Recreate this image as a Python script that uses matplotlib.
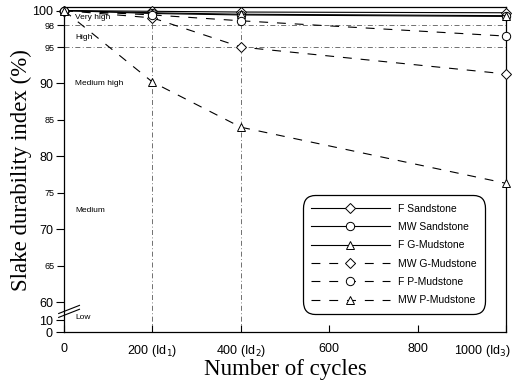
import numpy as np
import matplotlib
matplotlib.use('Agg')
import matplotlib.pyplot as plt
from matplotlib.transforms import ScaledTranslation

# cycles and slake durability index (%) per sample
cycles = [0, 200, 400, 1000]
f_sandstone = [100, 99.9, 99.8, 99.7]
mw_sandstone = [100, 99.6, 99.4, 99.2]
f_g_mudstone = [100, 99.7, 99.5, 99.3]
mw_g_mudstone = [100, 99.0, 95.0, 91.3]
f_p_mudstone = [100, 99.4, 98.6, 96.5]
mw_p_mudstone = [100, 90.2, 84.0, 76.3]

series = [
    ('F Sandstone', f_sandstone, 'D', '-'),
    ('MW Sandstone', mw_sandstone, 'o', '-'),
    ('F G-Mudstone', f_g_mudstone, '^', '-'),
    ('MW G-Mudstone', mw_g_mudstone, 'D', (0, (8, 8))),
    ('F P-Mudstone', f_p_mudstone, 'o', (0, (8, 8))),
    ('MW P-Mudstone', mw_p_mudstone, '^', (0, (8, 8))),
]

xticks = [0, 200, 400, 600, 800, 1000]
xticklabels = ['0', '200 (Id$_1$)', '400 (Id$_2$)', '600', '800', '1000 (Id$_3$)']

# the axis is broken below 60: 10 and 0 are squeezed under it
y_major = [100, 90, 80, 70, 60]
y_minor = [98, 95, 85, 75, 65]
y_low = {'10': 57.5, '0': 55.9}

classes = [('Very high', 99.0), ('High', 96.3), ('Medium high', 90.0),
           ('Medium', 72.6), ('Low', 57.9)]

sans = 'Liberation Sans'
serif = 'Liberation Serif'

fig = plt.figure(figsize=(5.14, 3.84), dpi=100)
ax = fig.add_axes([0.1245, 0.1354, 0.86, 0.8456])

ax.set_xlim(0, 1000)
ax.set_ylim(55.9, 100.45)

# classification boundaries and cycle guides
for yv in [98, 95]:
    ax.axhline(yv, color='0.35', lw=0.6, ls=(0, (6, 3, 1, 3)), zorder=1)
for xv in [200, 400]:
    ax.axvline(xv, color='0.35', lw=0.6, ls=(0, (6, 3, 1, 3)), zorder=1)

for name, vals, mk, ls in series:
    ms = 5 if mk == 'D' else 6
    ax.plot(cycles, vals, color='black', lw=0.8, ls=ls, marker=mk,
            markersize=ms, markerfacecolor='white', markeredgewidth=0.7,
            label=name, clip_on=False, zorder=3)

for txt, yv in classes:
    ax.text(25, yv, txt, fontsize=6, family=sans, va='center', ha='left')

ax.set_xticks(xticks)
ax.set_xticklabels(xticklabels, family=sans, fontsize=9)
ax.tick_params(axis='x', direction='in', length=5, width=0.8, pad=8)
last = ax.get_xticklabels()[-1]
last.set_horizontalalignment('right')
last.set_transform(last.get_transform() + ScaledTranslation(0.05, 0, fig.dpi_scale_trans))

ax.set_yticks(y_major + list(y_low.values()))
ax.set_yticklabels([str(v) for v in y_major] + list(y_low.keys()),
                   family=sans, fontsize=9)
ax.set_yticks(y_minor, minor=True)
ax.set_yticklabels([str(v) for v in y_minor], minor=True, family=sans, fontsize=6.5)
ax.tick_params(axis='y', which='major', direction='out', length=6, width=0.8, pad=2)
ax.tick_params(axis='y', which='minor', direction='out', length=5, width=0.8, pad=2)

for sp in ax.spines.values():
    sp.set_linewidth(0.9)

# break marks on the y axis
for dy in [0, 0.012]:
    ax.plot([-0.012, 0.035], [0.045 + dy, 0.07 + dy], transform=ax.transAxes,
            color='black', lw=0.8, clip_on=False, zorder=5)

ax.set_xlabel('Number of cycles', family=serif, fontsize=16.5, labelpad=0)
ax.set_ylabel('Slake durability index (%)', family=serif, fontsize=16.5, labelpad=0)

leg = ax.legend(loc='lower right', bbox_to_anchor=(0.965, 0.04),
                prop={'family': sans, 'size': 7.5}, handlelength=7.6,
                labelspacing=0.8, borderpad=0.8, fancybox=True,
                edgecolor='black', framealpha=1)
leg.get_frame().set_linewidth(0.9)
leg.get_frame().set_boxstyle('round', pad=0.0, rounding_size=1.2)

fig.savefig('out.png', dpi=100)
